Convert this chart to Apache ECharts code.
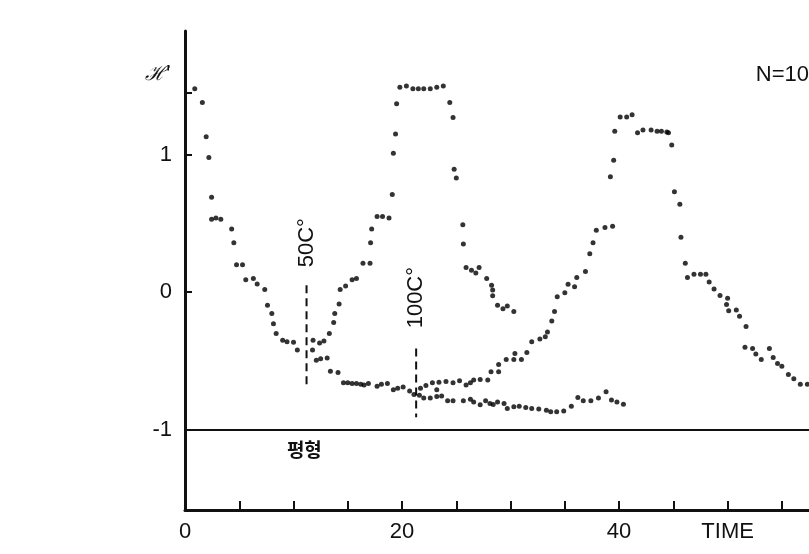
<!DOCTYPE html>
<html><head><meta charset="utf-8">
<script src="https://cdn.jsdelivr.net/npm/echarts@6/dist/echarts.min.js"></script>
<style>html,body{margin:0;padding:0;background:#fff}#c{width:809px;height:554px}</style>
</head><body><div id="c"></div>
<script>
// ---- data (TIME, H') ----
const xTickLabels = [0, 20, 40];
const xAxisTitle = 'TIME';
const yTickLabels = [-1, 0, 1];
const yTicks = [-1, 0, 1, 1.45];
const equilibrium = -1;
const equilibriumLabel = '평형';
const yAxisTitle = 'ℋ\'';
const nLabel = 'N=10';

// common descent from start
const branchStart = [[0.9,1.48],[1.6,1.38],[1.95,1.13],[2.2,0.98],[2.45,0.69],[2.45,0.53],[2.85,0.54],[3.3,0.53],
  [4.3,0.46],[4.5,0.36],[4.75,0.2],[5.3,0.2],[5.6,0.09],[6.3,0.1],[6.65,0.06],[7.35,0.02],[7.6,-0.095],[8.0,-0.155],
  [8.15,-0.23],[8.4,-0.3],[9.0,-0.35],[9.4,-0.36],[10.0,-0.365],[10.35,-0.42]];
// after 50C: rising branch
const branch50Rise = [[11.8,-0.35],[12.4,-0.37],[12.8,-0.355],[13.3,-0.3],[13.7,-0.22],[13.8,-0.155],[14.2,-0.087],
  [14.3,0.02],[14.8,0.044],[15.4,0.09],[15.8,0.1],[16.4,0.21],[17.05,0.21],[17.1,0.36],[17.2,0.46],[17.7,0.55],
  [18.2,0.55],[18.8,0.54],[19.1,0.71],[19.2,1.01],[19.4,1.15],[19.5,1.37],[19.8,1.49],[20.4,1.5],[21.0,1.48],
  [21.5,1.48],[22.0,1.48],[22.6,1.48],[23.2,1.49],[23.8,1.5],[24.4,1.38],[24.7,1.27],[24.8,0.895],[25.0,0.83],
  [25.6,0.49],[25.65,0.35],[25.9,0.18],[26.4,0.16],[26.8,0.14],[27.1,0.18],[27.8,0.1],[28.25,0.05],[28.35,0.015],
  [28.35,-0.027],[28.8,-0.095],[29.3,-0.12],[29.7,-0.1],[30.3,-0.14]];
// after 50C: flat branch
const branch50Flat = [[11.75,-0.42],[12.1,-0.495],[12.5,-0.485],[13.1,-0.48],[13.4,-0.575],[14.1,-0.584],[14.6,-0.66],
  [15.0,-0.66],[15.4,-0.664],[15.8,-0.665],[16.2,-0.67],[16.5,-0.676],[16.9,-0.664],[17.7,-0.684],[18.1,-0.67],
  [18.65,-0.664],[19.2,-0.71],[19.6,-0.7],[20.1,-0.69],[20.7,-0.72],[21.1,-0.745]];
// after 100C: rising branch
const branch100Rise = [[21.7,-0.7],[22.2,-0.68],[22.8,-0.66],[23.2,-0.71],[23.4,-0.655],[24.05,-0.65],[24.7,-0.66],
  [25.3,-0.645],[25.9,-0.675],[26.3,-0.66],[26.6,-0.64],[27.2,-0.635],[27.9,-0.64],[28.2,-0.58],[28.9,-0.58],
  [28.9,-0.526],[29.6,-0.49],[30.3,-0.49],[30.4,-0.446],[31.0,-0.49],[31.5,-0.44],[31.95,-0.36],[32.7,-0.34],
  [33.2,-0.325],[33.4,-0.29],[33.8,-0.21],[34.05,-0.14],[34.3,-0.034],[35.0,-0.005],[35.3,0.058],[35.9,0.04],
  [36.1,0.107],[36.9,0.15],[37.3,0.28],[37.6,0.36],[37.9,0.45],[38.7,0.47],[39.4,0.48],[39.2,0.84],[39.5,0.96],
  [39.6,1.17],[40.1,1.275],[40.7,1.275],[41.2,1.29],[41.7,1.16],[42.2,1.18],[42.95,1.18],[43.5,1.17],[43.9,1.17],
  [44.4,1.165],[44.55,1.16],[44.85,1.07],[45.1,0.73],[45.6,0.64],[45.7,0.4],[46.1,0.21],[46.3,0.107],[46.9,0.13],
  [47.5,0.13],[48.0,0.13],[48.3,0.073],[48.75,0.022],[49.3,-0.024],[50.0,-0.044],[49.9,-0.09],[50.1,-0.136],
  [50.8,-0.13],[51.1,-0.175],[51.7,-0.25],[51.6,-0.4],[52.3,-0.41],[52.6,-0.45],[53.1,-0.49],[53.85,-0.41],
  [54.2,-0.475],[54.6,-0.52],[55.0,-0.54],[55.6,-0.6],[56.1,-0.63],[56.7,-0.67],[57.35,-0.67]];
// after 100C: flat branch
const branch100Flat = [[21.6,-0.75],[22.0,-0.77],[22.6,-0.77],[23.2,-0.76],[23.65,-0.756],[24.2,-0.79],[24.7,-0.79],
  [25.65,-0.79],[26.3,-0.78],[26.6,-0.8],[27.2,-0.82],[27.7,-0.79],[28.1,-0.81],[28.4,-0.817],[28.8,-0.8],
  [29.4,-0.81],[29.7,-0.846],[30.3,-0.834],[30.8,-0.83],[31.4,-0.84],[31.95,-0.846],[32.6,-0.85],[33.3,-0.86],
  [33.7,-0.87],[34.25,-0.87],[34.9,-0.865],[35.6,-0.83],[36.2,-0.766],[36.7,-0.79],[37.4,-0.79],[38.1,-0.77],
  [38.8,-0.725],[39.3,-0.785],[39.8,-0.8],[40.4,-0.815]];
// temperature markers (vertical dashed segments) and their labels
const marker50 = {label:'50C°', line:[[11.2,0.05],[11.2,-0.68]], labelAt:[11.2,0.36]};
const marker100 = {label:'100C°', line:[[21.3,-0.41],[21.3,-0.91]], labelAt:[21.3,-0.04]};

const dotSeries = [branchStart, branch50Rise, branch50Flat, branch100Rise, branch100Flat].map(d => ({
  type:'scatter', data:d, symbol:'circle', symbolSize:5, itemStyle:{color:'#000'}, silent:true, z:5
}));
const dashSeries = [marker50, marker100].map(m => ({
  type:'line', data:m.line, symbol:'none', lineStyle:{color:'#111', width:2, type:[8,5]}, silent:true, z:4
}));

const chart = echarts.init(document.getElementById('c'), null, {renderer:'canvas'});
const font = 'Liberation Sans, Arial, sans-serif';
chart.setOption({
  animation:false,
  backgroundColor:'#fff',
  grid:{left:185, right:0, top:31, bottom:44},
  xAxis:{type:'value', min:0, max:57.5, interval:5,
    axisLine:{show:true, onZero:false, lineStyle:{color:'#111', width:3}},
    axisTick:{show:true, inside:true, length:9, lineStyle:{color:'#111', width:2}},
    axisLabel:{interval:0, margin:11, fontSize:22, color:'#111', fontFamily:font, showMaxLabel:false,
      formatter: v => xTickLabels.includes(v) ? String(v) : (v === 50 ? xAxisTitle : '')},
    splitLine:{show:false}},
  yAxis:{type:'value', min:-1.585, max:1.9,
    axisLine:{show:true, onZero:false, lineStyle:{color:'#111', width:3}},
    axisTick:{show:true, inside:true, length:7, lineStyle:{color:'#111', width:2}, customValues:yTicks},
    axisLabel:{margin:13, fontSize:22, color:'#111', fontFamily:font, customValues:yTickLabels,
      formatter: v => String(v)},
    splitLine:{show:false}},
  series:[...dotSeries, ...dashSeries, {
    type:'line', data:[], silent:true,
    markLine:{silent:true, symbol:'none', label:{show:false},
      lineStyle:{color:'#111', width:2, type:'solid'}, data:[{yAxis:equilibrium}]}
  }]
});

const g = [];
[marker50, marker100].forEach(m => {
  const p = chart.convertToPixel({gridIndex:0}, m.labelAt);
  g.push({type:'text', x:p[0], y:p[1], rotation:Math.PI/2,
    style:{text:m.label, font:'22px '+font, fill:'#111', align:'center', verticalAlign:'middle'}});
});
const pe = chart.convertToPixel({gridIndex:0}, [11.0, -1.15]);
g.push({type:'text', x:pe[0], y:pe[1], style:{text:equilibriumLabel, font:'bold 19px "Noto Sans CJK KR"', fill:'#111', align:'center', verticalAlign:'middle'}});
const ph = chart.convertToPixel({gridIndex:0}, [0, 1.58]);
g.push({type:'text', x:ph[0]-14, y:ph[1], style:{text:yAxisTitle, font:'italic 20px "DejaVu Serif"', fill:'#111', align:'right', verticalAlign:'middle'}});
const pn = chart.convertToPixel({gridIndex:0}, [57.5, 1.58]);
g.push({type:'text', x:pn[0], y:pn[1], style:{text:nLabel, font:'22px '+font, fill:'#111', align:'right', verticalAlign:'middle'}});
chart.setOption({graphic:g});
</script></body></html>
